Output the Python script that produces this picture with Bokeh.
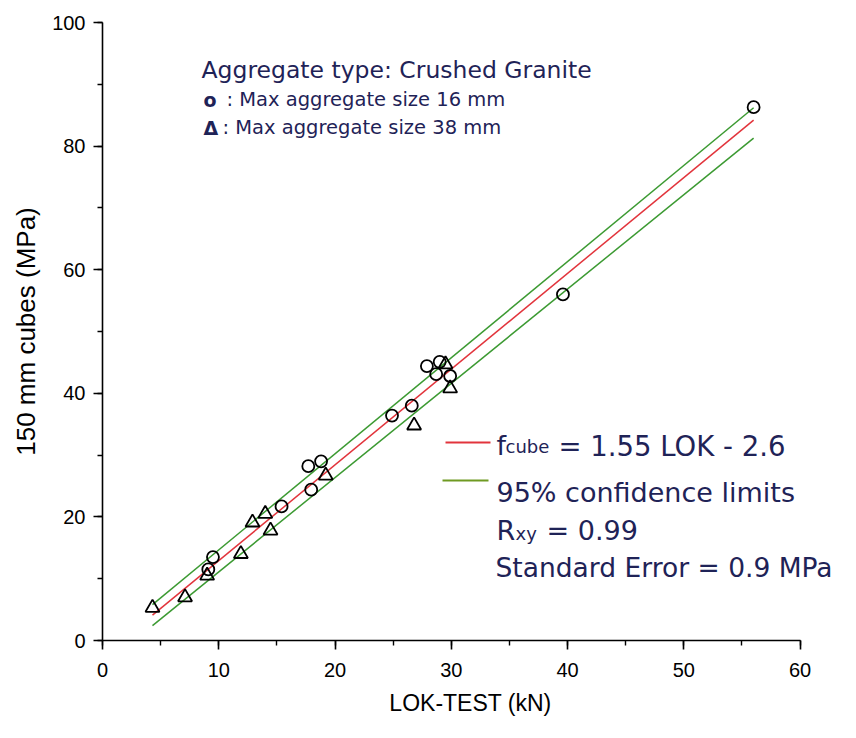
from bokeh.plotting import figure
from bokeh.models import Label, Arrow, Range1d, SingleIntervalTicker, ColumnDataSource
from bokeh.embed import file_html
from bokeh.resources import INLINE

# ---- data ----
# Max aggregate size 16 mm (circles)
c16_lok = [56.0, 39.6, 29.0, 27.9, 28.7, 29.9, 26.6, 24.9, 18.8, 17.7, 17.95, 15.4, 9.5, 9.1]
c16_cube = [86.3, 56.0, 45.1, 44.4, 43.1, 42.8, 38.0, 36.4, 29.0, 28.2, 24.4, 21.7, 13.5, 11.5]
# Max aggregate size 38 mm (triangles)
t38_lok = [29.9, 29.5, 26.8, 19.2, 12.9, 14.0, 14.45, 11.9, 9.0, 7.1, 4.3]
t38_cube = [40.8, 44.7, 34.8, 26.7, 19.1, 20.5, 17.8, 14.0, 10.5, 7.0, 5.3]
# regression line and 95% confidence limits (end points)
fit_x = [4.3, 56.0]
fit_y = [4.1, 84.2]
upper_y = [5.8, 86.2]
lower_y = [2.4, 81.3]

x_ticks_step = 10
y_ticks_step = 20

NAVY = "#1f2357"
RED = "#e2343c"
GREEN = "#3c9a32"
TICK_FONT = "Liberation Sans"

p = figure(width=840, height=722, output_backend="svg", toolbar_location=None,
           x_range=Range1d(0, 63.3), y_range=Range1d(0, 100),
           min_border_left=102, min_border_right=2, min_border_top=22, min_border_bottom=82)
p.outline_line_color = None
p.grid.visible = False
p.background_fill_color = "white"
p.border_fill_color = "white"

p.xaxis.ticker = SingleIntervalTicker(interval=x_ticks_step, num_minor_ticks=2)
p.yaxis.ticker = SingleIntervalTicker(interval=y_ticks_step, num_minor_ticks=2)
p.xaxis.bounds = (0, 60)
p.yaxis.bounds = (0, 100)

for ax in (p.xaxis[0], p.yaxis[0]):
    ax.axis_line_width = 1.6
    ax.axis_line_color = "black"
    ax.major_tick_line_width = 1.6
    ax.minor_tick_line_width = 1.4
    ax.major_tick_out = 9
    ax.major_tick_in = 0
    ax.minor_tick_out = 5
    ax.minor_tick_in = 0
    ax.major_label_text_font = TICK_FONT
    ax.major_label_text_font_size = "20px"
    ax.major_label_text_color = "black"
    ax.axis_label_text_font_style = "normal"
    ax.axis_label_text_color = "black"

p.xaxis.major_label_standoff = 13
p.yaxis.major_label_standoff = 8
p.xaxis.axis_label = "LOK-TEST (kN)"
p.xaxis.axis_label_text_font = TICK_FONT
p.xaxis.axis_label_text_font_size = "23px"
p.xaxis.axis_label_standoff = 10
p.yaxis.axis_label = "150 mm cubes (MPa)"
p.yaxis.axis_label_text_font = "Liberation Sans"
p.yaxis.axis_label_text_font_size = "26px"
p.yaxis.axis_label_standoff = 8

# lines
p.line(fit_x, upper_y, line_color=GREEN, line_width=1.5)
p.line(fit_x, lower_y, line_color=GREEN, line_width=1.5)
p.line(fit_x, fit_y, line_color=RED, line_width=1.5)

# points
src16 = ColumnDataSource(dict(x=c16_lok, y=c16_cube))
src38 = ColumnDataSource(dict(x=t38_lok, y=t38_cube))
p.scatter("x", "y", source=src16, marker="circle", size=12, fill_color=None,
          line_color="black", line_width=1.8)
p.scatter("x", "y", source=src38, marker="triangle", size=14, fill_color=None,
          line_color="black", line_width=1.8)

# helpers converting reference pixel positions to data coordinates for annotations
def dx(px):
    return (px - 102) / 11.627

def dy(py):
    return (640 - py) / 6.18

def lab(text, px, py, size, bold=False, font="DejaVu Sans"):
    p.add_layout(Label(x=dx(px), y=dy(py), text=text, text_font=font,
                       text_font_size=size, text_color=NAVY,
                       text_font_style="bold" if bold else "normal",
                       text_baseline="alphabetic", text_align="left"))

# header annotation
lab("Aggregate type: Crushed Granite", 201, 69, "23.5px")
lab("o", 203, 99, "19px", bold=True)
lab(":  Max aggregate size 16 mm", 226, 99, "19.5px")
lab("\u0394", 203, 127, "19px", bold=True)
lab(": Max aggregate size 38 mm", 222, 127, "19.5px")

# legend samples
p.add_layout(Arrow(end=None, x_start=dx(445), y_start=dy(442), x_end=dx(490), y_end=dy(442),
                   line_color=RED, line_width=1.8))
p.add_layout(Arrow(end=None, x_start=dx(442), y_start=dy(480), x_end=dx(488), y_end=dy(480),
                   line_color="#6f9a22", line_width=1.8))

lab("f", 496, 445, "27px")
lab("cube", 505, 446, "18px")
lab("= 1.55 LOK - 2.6", 558, 445, "27.5px")
lab("95% confidence limits", 496, 492, "27px")
lab("R", 496, 530, "27px")
lab("xy", 515, 533, "18px")
lab("= 0.99", 546, 530, "27px")
lab("Standard Error = 0.9 MPa", 495, 567, "26.5px")

open("out.html", "w").write(file_html(p, INLINE))
